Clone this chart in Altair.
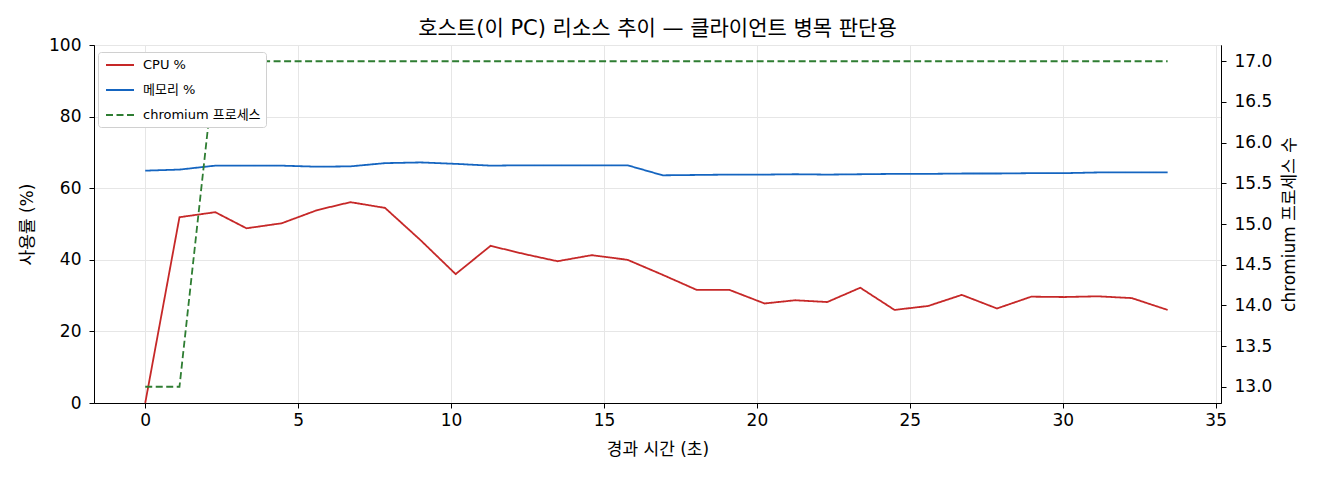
import altair as alt
import pandas as pd

# elapsed seconds and readings
t = [0.0, 1.12, 2.29, 3.31, 4.46, 5.63, 6.71, 7.84, 9.0, 10.15, 11.29, 12.4,
     13.48, 14.6, 15.77, 16.92, 18.03, 19.1, 20.25, 21.25, 22.3, 23.38, 24.5,
     25.6, 26.7, 27.85, 28.97, 30.04, 31.15, 32.26, 33.43]
cpu = [0.0, 51.9, 53.3, 48.8, 50.2, 53.9, 56.1, 54.5, 45.5, 36.0, 43.9, 41.6,
       39.6, 41.3, 40.0, 35.8, 31.6, 31.6, 27.8, 28.7, 28.2, 32.2, 26.0,
       27.1, 30.2, 26.4, 29.7, 29.6, 29.8, 29.3, 26.0]
mem = [64.9, 65.2, 66.3, 66.3, 66.3, 66.0, 66.1, 67.0, 67.2, 66.8, 66.3, 66.4,
       66.4, 66.4, 66.4, 63.6, 63.7, 63.8, 63.8, 63.9, 63.8, 63.9, 64.0,
       64.0, 64.1, 64.1, 64.2, 64.2, 64.4, 64.4, 64.4]
procs = [13, 13] + [17] * 29

names = ["CPU %", "메모리 %", "chromium 프로세스"]
colors = ["#c62828", "#1565c0", "#2e7d32"]
dashes = [[1, 0], [1, 0], [7, 3.5]]

FONT = "DejaVu Sans, Noto Sans CJK KR"

df = pd.DataFrame({"t": t, names[0]: cpu, names[1]: mem, names[2]: procs})

x = alt.X("t:Q", scale=alt.Scale(domain=[-1.675, 35.175], nice=False, zero=False),
          axis=alt.Axis(title="경과 시간 (초)", values=[0, 5, 10, 15, 20, 25, 30, 35],
                        gridColor="#e6e6e6", tickSize=5, labelFlush=False,
                        labelPadding=4, titlePadding=13))

color = alt.Color("series:N", scale=alt.Scale(domain=names, range=colors),
                  legend=alt.Legend(title=None, orient="none", legendX=4, legendY=7,
                                    symbolType="M-2,0L2,0", symbolSize=196,
                                    symbolStrokeWidth=2, labelFontSize=13,
                                    labelOffset=15, strokeColor="#d0d0d0",
                                    fillColor="white", padding=5, cornerRadius=3,
                                    rowPadding=10, symbolOffset=9))
dash = alt.StrokeDash("series:N", scale=alt.Scale(domain=names, range=dashes),
                      legend=None)

left = alt.Chart(df).transform_fold(names[:2], as_=["series", "value"]).mark_line(
    strokeWidth=1.8
).encode(
    x=x,
    y=alt.Y("value:Q", scale=alt.Scale(domain=[0, 100], nice=False),
            axis=alt.Axis(title="사용률 (%)", values=[0, 20, 40, 60, 80, 100],
                          gridColor="#e6e6e6", tickSize=5, labelPadding=8,
                          titlePadding=12)),
    color=color,
    strokeDash=dash,
)

right = alt.Chart(df).transform_fold(names[2:], as_=["series", "value"]).mark_line(
    strokeWidth=1.8
).encode(
    x=x,
    y=alt.Y("value:Q", scale=alt.Scale(domain=[12.8, 17.2], nice=False, zero=False),
            axis=alt.Axis(title="chromium 프로세스 수", orient="right", format=".1f",
                          values=[13.0, 13.5, 14.0, 14.5, 15.0, 15.5, 16.0, 16.5, 17.0],
                          grid=False, tickSize=5, labelPadding=8, titleAngle=270,
                          titleBaseline="top", titlePadding=10)),
    color=color,
    strokeDash=dash,
)

chart = alt.layer(left, right).resolve_scale(y="independent").properties(
    width=1127, height=358,
    autosize=alt.AutoSizeParams(type="none"),
    padding={"left": 86, "top": 37, "right": 90, "bottom": 69},
    title=alt.Title("호스트(이 PC) 리소스 추이 — 클라이언트 병목 판단용",
                    fontSize=21, fontWeight="normal", font=FONT, offset=8, dy=11),
).configure(font=FONT).configure_view(
    stroke="black", strokeWidth=1
).configure_axis(
    domainColor="black", tickColor="black", labelColor="black", titleColor="black",
    labelFontSize=17, titleFontSize=17, titleFontWeight="normal", labelFont=FONT,
    titleFont=FONT
).configure_legend(labelFont=FONT, labelColor="black")

chart.save("out.html", embed_options={"renderer": "svg", "actions": False})
